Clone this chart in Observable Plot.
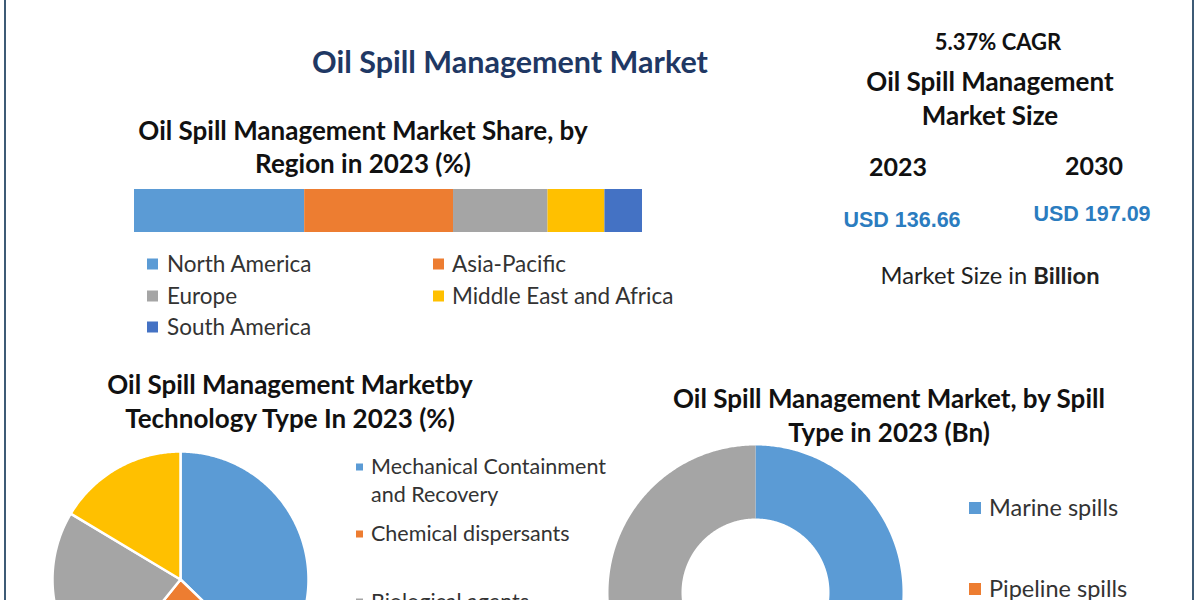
<!DOCTYPE html>
<html><head><meta charset="utf-8">
<script src="https://cdn.jsdelivr.net/npm/d3@7"></script>
<script src="https://cdn.jsdelivr.net/npm/@observablehq/plot@0.6"></script>
<style>
html,body{margin:0;padding:0;background:#fff;overflow:hidden;}
#root{position:relative;width:1200px;height:600px;overflow:hidden;font-family:Lato,"Open Sans",sans-serif;color:#111;background:#fff;}
.t{position:absolute;transform:translate(-50%,-50%);white-space:nowrap;font-weight:700;line-height:1;}
.l{position:absolute;transform:translateY(-50%);white-space:nowrap;color:#333;line-height:1;}
.sq{position:absolute;transform:translateY(-50%);}
.border{position:absolute;top:0;height:600px;width:2px;background:#3e5b76;}
.chart{position:absolute;}
</style></head>
<body><div id="root"></div>
<script>
// ---- data ----
const regions = ["North America", "Asia-Pacific", "Europe", "Middle East and Africa", "South America"];
const regionShare = [33.5, 29.3, 18.6, 11.2, 7.4];
const regionColors = ["#5b9bd5", "#ed7d31", "#a5a5a5", "#ffc000", "#4472c4"];

const techTypes = ["Mechanical Containment and Recovery", "Chemical dispersants", "Biological agents", "Others"];
const techShare = [37.2, 23.6, 22.8, 16.4];
const techColors = ["#5b9bd5", "#ed7d31", "#a5a5a5", "#ffc000"];

const spillTypes = ["Marine spills", "Pipeline spills", "Others"];
const spillValue = [48, 12, 40];
const spillColors = ["#5b9bd5", "#ed7d31", "#a5a5a5"];

const cagr = "5.37% CAGR";
const years = ["2023", "2030"];
const sizes = ["USD 136.66", "USD 197.09"];

const root = document.getElementById("root");

function text(str, cx, cy, size, opts = {}) {
  const d = document.createElement("div");
  d.className = opts.cls || "t";
  d.style.left = cx + "px";
  d.style.top = cy + "px";
  d.style.fontSize = size + "px";
  if (opts.color) d.style.color = opts.color;
  if (opts.weight) d.style.fontWeight = opts.weight;
  if (opts.font) d.style.fontFamily = opts.font;
  if (opts.html) d.innerHTML = str; else d.textContent = str;
  root.appendChild(d);
  return d;
}
function legendItem(sqx, tx, cy, sqs, color, label, size) {
  const s = document.createElement("div");
  s.className = "sq";
  s.style.left = sqx + "px"; s.style.top = cy + "px";
  s.style.width = sqs + "px"; s.style.height = sqs + "px";
  s.style.background = color;
  root.appendChild(s);
  text(label, tx, cy, size, {cls: "l"});
}
function place(svg, left, top, w) {
  const d = document.createElement("div");
  d.className = "chart";
  d.style.left = left + "px"; d.style.top = top + "px"; d.style.width = w + "px";
  d.appendChild(svg);
  root.appendChild(d);
}

// borders
for (const x of [4, 1192]) {
  const b = document.createElement("div"); b.className = "border"; b.style.left = x + "px"; root.appendChild(b);
}

// ---- titles ----
text("Oil Spill Management Market", 510, 61, 30.5, {color: "#1f3864"});
text("Oil Spill Management Market Share, by", 363, 130, 26);
text("Region in 2023 (%)", 363, 163, 26);

// ---- stacked bar ----
const barData = regions.map((r, i) => ({region: r, share: regionShare[i]}));
const bar = Plot.plot({
  width: 508, height: 43, margin: 0,
  x: {domain: [0, 100], axis: null},
  color: {domain: regions, range: regionColors},
  style: {background: "transparent", overflow: "visible"},
  marks: [Plot.barX(barData, {x: "share", fill: "region", inset: 0})]
});
place(bar, 134, 189, 508);

// legend for regions
const legPos = [[147, 167, 264], [433, 452, 264], [147, 167, 296], [433, 452, 296], [147, 167, 327]];
regions.forEach((r, i) => legendItem(legPos[i][0], legPos[i][1], legPos[i][2], 11, regionColors[i], r, 22.5));

// ---- right panel ----
text(cagr, 998, 42, 22);
text("Oil Spill Management", 990, 81, 26);
text("Market Size", 990, 115, 26);
text(years[0], 898, 166, 25);
text(years[1], 1094, 165, 25);
text(sizes[0], 902, 221, 21.5, {color: "#2b7cbf", font: "'Liberation Sans', Arial, sans-serif"});
text(sizes[1], 1092, 215, 21.5, {color: "#2b7cbf", font: "'Liberation Sans', Arial, sans-serif"});
text("Market Size in <b>Billion</b>", 990, 276, 23.7, {html: true, weight: 400, color: "#222"});

// ---- pie geometry helper ----
function arcPolys(labels, values, inner) {
  const arcs = d3.pie().sort(null)(values);
  const rows = [];
  arcs.forEach((a, i) => {
    const n = Math.max(2, Math.ceil((a.endAngle - a.startAngle) / 0.01));
    const outer = d3.range(n + 1).map(k => a.startAngle + (a.endAngle - a.startAngle) * k / n);
    outer.forEach(t => rows.push({cat: labels[i], x: Math.sin(t), y: Math.cos(t)}));
    if (inner > 0) {
      outer.slice().reverse().forEach(t => rows.push({cat: labels[i], x: inner * Math.sin(t), y: inner * Math.cos(t)}));
    } else {
      rows.push({cat: labels[i], x: 0, y: 0});
    }
  });
  return rows;
}

// ---- technology pie ----
text("Oil Spill Management Marketby", 290, 384, 26);
text("Technology Type In 2023 (%)", 290, 418, 26);
const R1 = 128, P1 = 4, S1 = 2 * (R1 + P1);
const pie = Plot.plot({
  width: S1, height: S1, margin: P1,
  x: {domain: [-1, 1], axis: null}, y: {domain: [-1, 1], axis: null},
  color: {domain: techTypes, range: techColors},
  style: {background: "transparent", overflow: "visible"},
  marks: [Plot.line(arcPolys(techTypes, techShare, 0), {x: "x", y: "y", z: "cat", fill: "cat", stroke: "white", strokeWidth: 2.5, curve: "linear-closed"})]
});
place(pie, 180 - S1 / 2, 579 - S1 / 2, S1);

legendItem(356, 371, 467, 7, techColors[0], "Mechanical Containment", 21.5);
text("and Recovery", 371, 495, 21.5, {cls: "l"});
legendItem(356, 371, 534, 7, techColors[1], techTypes[1], 21.5);
legendItem(356, 371, 602, 7, techColors[2], techTypes[2], 21.5);

// ---- spill donut ----
text("Oil Spill Management Market, by Spill", 889, 398, 26);
text("Type in 2023 (Bn)", 889, 432, 26);
const R2 = 147, P2 = 4, S2 = 2 * (R2 + P2);
const donut = Plot.plot({
  width: S2, height: S2, margin: P2,
  x: {domain: [-1, 1], axis: null}, y: {domain: [-1, 1], axis: null},
  color: {domain: spillTypes, range: spillColors},
  style: {background: "transparent", overflow: "visible"},
  marks: [Plot.line(arcPolys(spillTypes, spillValue, 74 / 147), {x: "x", y: "y", z: "cat", fill: "cat", stroke: "none", curve: "linear-closed"})]
});
place(donut, 755 - S2 / 2, 592 - S2 / 2, S2);

legendItem(969, 989, 508, 12, spillColors[0], spillTypes[0], 23.5);
legendItem(969, 989, 589, 12, spillColors[1], spillTypes[1], 23.5);
</script>
</body></html>
